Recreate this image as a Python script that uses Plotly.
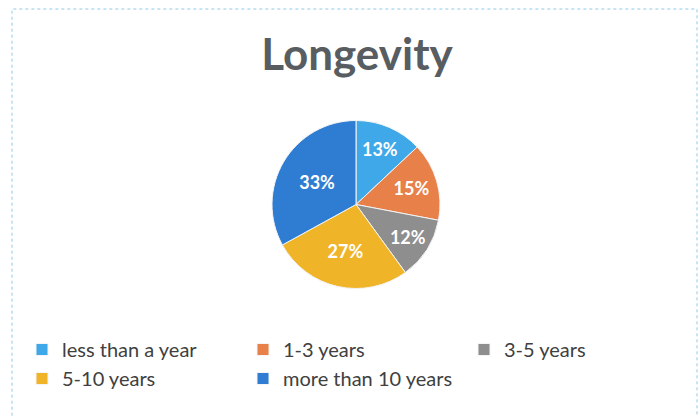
import plotly.graph_objects as go

labels = ["less than a year", "1-3 years", "3-5 years", "5-10 years", "more than 10 years"]
values = [13, 15, 12, 27, 33]
colors = ["#3fa8e8", "#e8804a", "#8e8e8e", "#f0b429", "#2e7dd2"]
title_text = "Longevity"

W, H = 698, 417

fig = go.Figure(
    go.Pie(
        labels=labels,
        values=values,
        sort=False,
        direction="clockwise",
        rotation=0,
        marker=dict(colors=colors, line=dict(color="#f4f4f4", width=1)),
        textinfo="percent",
        texttemplate="%{percent:.0%}",
        textposition="inside",
        insidetextorientation="horizontal",
        textfont=dict(family="Lato", size=18, color="white", weight="bold"),
        domain=dict(x=[272 / W, 440 / W], y=[1 - 289 / H, 1 - 120 / H]),
        hoverinfo="label+percent",
    )
)

fig.update_layout(
    width=W,
    height=H,
    margin=dict(l=0, r=0, t=0, b=0),
    paper_bgcolor="white",
    plot_bgcolor="white",
    title=dict(
        text=title_text,
        x=357 / W,
        xanchor="center",
        y=1 - 55 / H,
        yanchor="middle",
        font=dict(family="Lato", size=44, color="#575d61", weight="bold"),
    ),
    showlegend=True,
    legend=dict(
        orientation="h",
        x=22 / W,
        xanchor="left",
        y=1 - 330 / H,
        yanchor="top",
        entrywidth=176,
        entrywidthmode="pixels",
        itemwidth=30,
        font=dict(family="Lato", size=20, color="#404040"),
        bgcolor="rgba(0,0,0,0)",
        traceorder="normal",
    ),
    shapes=[
        dict(
            type="rect",
            xref="paper",
            yref="paper",
            x0=12 / W,
            x1=697 / W,
            y0=-0.02,
            y1=1 - 9 / H,
            line=dict(color="#8ecbea", width=1, dash="dot"),
        )
    ],
)

fig.write_html("out.html")
